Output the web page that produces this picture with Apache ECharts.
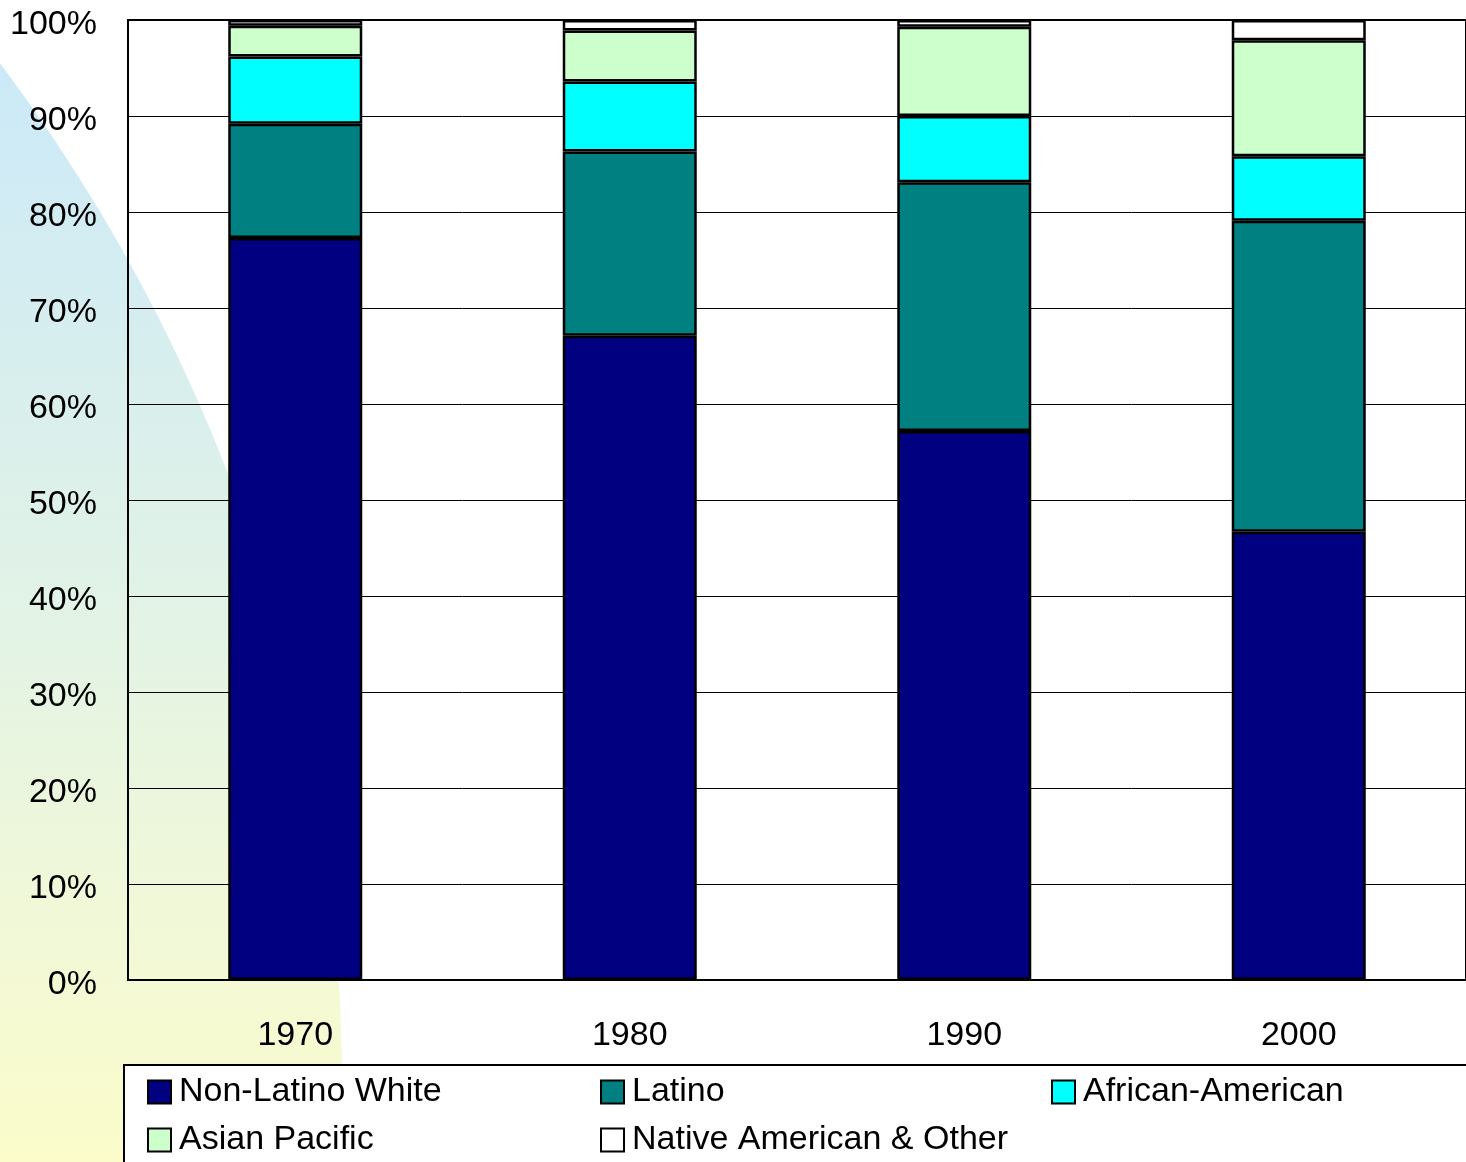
<!DOCTYPE html>
<html>
<head>
<meta charset="utf-8">
<script src="https://cdn.jsdelivr.net/npm/echarts@6/dist/echarts.min.js"></script>
<style>
  html, body { margin: 0; padding: 0; background: #ffffff; }
  #chart { width: 1466px; height: 1162px; }
</style>
</head>
<body>
<div id="chart"></div>
<script>
// Census years and population share (%) by group
const years = ['1970', '1980', '1990', '2000'];
const nonLatinoWhite = [77.3, 67.1, 57.2, 46.7];
const latino = [11.9, 19.2, 25.9, 32.4];
const africanAmerican = [7.0, 7.3, 6.9, 6.7];
const asianPacific = [3.2, 5.3, 9.3, 12.1];
const nativeOther = [0.6, 1.1, 0.7, 2.1];
const yTicks = [0, 10, 20, 30, 40, 50, 60, 70, 80, 90, 100];

const FONT = '"Liberation Sans", Arial, sans-serif';
const FS = 34;

const seriesDefs = [
  { name: 'Non-Latino White', data: nonLatinoWhite, color: '#000080' },
  { name: 'Latino', data: latino, color: '#008080' },
  { name: 'African-American', data: africanAmerican, color: '#00FFFF' },
  { name: 'Asian Pacific', data: asianPacific, color: '#CCFFCC' },
  { name: 'Native American & Other', data: nativeOther, color: '#FFFFFF' }
];

// legend grid: [name, left, top]
const legendSlots = [
  ['Non-Latino White', 147, 1075],
  ['Latino', 600, 1075],
  ['African-American', 1051, 1075],
  ['Asian Pacific', 147, 1123],
  ['Native American & Other', 600, 1123]
];

const chart = echarts.init(document.getElementById('chart'), null, { renderer: 'canvas' });

chart.setOption({
  backgroundColor: '#ffffff',
  animation: false,
  graphic: [
    {
      // soft decorative swoosh on the left edge
      type: 'circle',
      z: -100,
      silent: true,
      shape: { cx: -1355, cy: 1085, r: 1697 },
      style: {
        fill: {
          type: 'linear', global: true,
          x: 0, y: 60, x2: 0, y2: 1162,
          colorStops: [
            { offset: 0, color: '#cbe9f8' },
            { offset: 0.5, color: '#e2f3e6' },
            { offset: 1, color: '#fcfccb' }
          ]
        }
      }
    },
    {
      // legend frame
      type: 'rect',
      z: -50,
      silent: true,
      shape: { x: 124, y: 1065, width: 1400, height: 200 },
      style: { fill: '#ffffff', stroke: '#000000', lineWidth: 2 }
    }
  ],
  legend: legendSlots.map(([name, left, top]) => ({
    data: [name],
    left: left,
    top: top,
    width: 600,
    height: 40,
    itemWidth: 23,
    itemHeight: 23,
    itemGap: 11,
    padding: 0,
    icon: 'rect',
    selectedMode: false,
    textStyle: { fontFamily: FONT, fontSize: FS, lineHeight: 34, color: '#000', padding: [0, 0, 0, 3] }
  })),
  grid: {
    left: 128, top: 20, width: 1340, height: 960,
    show: true, backgroundColor: 'transparent',
    borderColor: '#000', borderWidth: 2
  },
  xAxis: {
    type: 'category',
    data: years,
    axisLine: { show: true, lineStyle: { color: '#000', width: 2 } },
    axisTick: { show: false },
    axisLabel: { fontFamily: FONT, fontSize: FS, color: '#000', margin: 39, lineHeight: 34 }
  },
  yAxis: {
    type: 'value',
    min: yTicks[0],
    max: yTicks[yTicks.length - 1],
    interval: yTicks[1] - yTicks[0],
    axisLine: { show: true, lineStyle: { color: '#000', width: 2 } },
    axisTick: { show: false },
    splitLine: { show: true, lineStyle: { color: '#000', width: 1 } },
    axisLabel: {
      fontFamily: FONT, fontSize: FS, color: '#000', margin: 31,
      verticalAlign: 'top', lineHeight: 9,
      formatter: '{value}%'
    }
  },
  series: seriesDefs.map(s => ({
    name: s.name,
    type: 'bar',
    stack: 'total',
    barWidth: 134,
    data: s.data,
    itemStyle: { color: s.color, borderColor: '#000', borderWidth: 2.5 },
    emphasis: { disabled: true }
  }))
});
</script>
</body>
</html>
